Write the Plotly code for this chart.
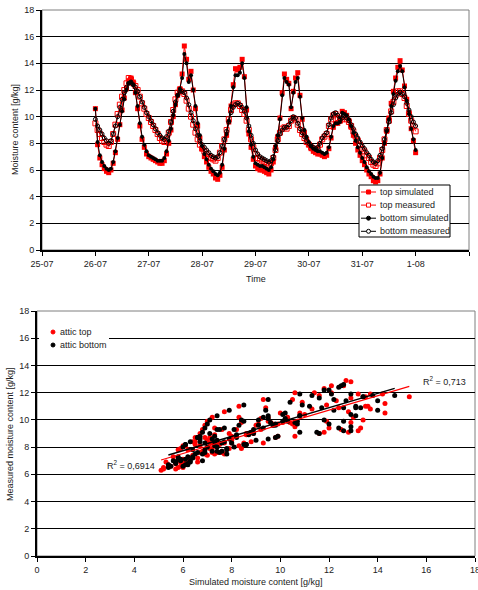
import pandas as pd
import plotly.graph_objects as go

# ---------------- data (hourly, from 26-07 00:00 to 1-08 00:00) ----------------
series_start = "2007-07-26 00:00"

top_simulated = [
    10.6, 7.9, 6.9, 6.4, 6.1, 5.9, 5.8, 6.0, 6.5, 7.3, 8.3, 9.4, 10.5, 11.4, 12.1, 12.7, 12.9, 12.6, 11.8, 10.6, 9.3, 8.3, 7.7, 7.2,
    7.0, 6.9, 6.8, 6.7, 6.6, 6.5, 6.5, 6.7, 7.2, 8.0, 9.0, 10.0, 10.9, 11.6, 12.1, 13.2, 15.3, 14.3, 12.8, 13.4, 12.0, 10.6, 9.3, 8.4,
    7.6, 7.0, 6.6, 6.2, 5.9, 5.7, 5.4, 5.3, 5.6, 6.2, 7.5, 8.6, 9.6, 10.8, 12.4, 13.6, 13.5, 13.7, 14.3, 13.0, 10.5, 8.7, 7.7, 6.8,
    6.3, 6.1, 6.0, 6.0, 5.9, 5.8, 5.7, 6.0, 6.6, 7.7, 8.5, 9.9, 11.8, 13.2, 12.8, 12.5, 10.6, 11.9, 12.9, 13.3, 11.6, 9.8, 8.8, 8.3,
    7.9, 7.6, 7.4, 7.3, 7.2, 7.2, 7.1, 7.0, 7.1, 7.6, 8.4, 9.2, 9.5, 9.5, 9.7, 10.4, 10.3, 10.1, 9.7, 9.2, 8.6, 8.0, 7.5, 7.1,
    6.7, 6.4, 6.0, 5.7, 5.5, 5.2, 5.1, 5.2, 5.7, 6.9, 8.0, 8.9, 9.9, 11.0, 11.9, 12.9, 13.7, 14.2, 13.5, 12.3, 11.3, 10.3, 9.1, 8.2,
    7.3,
]
top_measured = [
    9.5, 9.0, 8.7, 8.4, 8.1, 7.9, 7.8, 8.1, 8.7, 9.4, 10.2, 10.9, 11.5, 12.0, 12.5, 12.9, 12.8, 12.5, 12.3, 12.0, 11.5, 11.0, 10.6, 10.2,
    9.9, 9.6, 9.3, 9.0, 8.7, 8.4, 8.2, 8.1, 8.3, 8.8, 9.6, 10.5, 11.3, 11.8, 12.0, 11.9, 11.7, 11.2, 10.6, 10.0, 9.4, 8.8, 8.3, 7.9,
    7.6, 7.4, 7.2, 7.0, 6.9, 6.8, 6.7, 6.9, 7.3, 7.8, 8.3, 9.0, 9.8, 10.5, 10.9, 11.0, 11.0, 10.8, 10.5, 10.2, 9.7, 9.0, 8.3, 7.7,
    7.2, 6.9, 6.8, 6.7, 6.6, 6.5, 6.4, 6.5, 6.9, 7.5, 8.3, 8.8, 9.1, 9.2, 9.1, 9.3, 9.7, 9.9, 9.8, 9.4, 9.0, 8.7, 8.4, 8.1,
    7.9, 7.7, 7.6, 7.5, 7.6, 7.9, 8.3, 8.5, 8.7, 9.3, 9.8, 10.1, 10.2, 9.9, 9.7, 9.8, 10.0, 9.8, 9.6, 9.3, 8.9, 8.5, 8.2, 7.9,
    7.6, 7.4, 7.1, 6.9, 6.6, 6.4, 6.3, 6.5, 6.9, 7.5, 8.3, 9.0, 9.7, 10.4, 11.1, 11.6, 11.9, 11.9, 11.7, 11.4, 10.8, 10.2, 9.7, 9.3,
    8.9,
]
bottom_simulated = [
    10.6, 8.1, 7.1, 6.6, 6.3, 6.1, 6.0, 6.1, 6.6, 7.4, 8.4, 9.4, 10.4, 11.3, 12.0, 12.5, 12.6, 12.4, 11.8, 10.8, 9.5, 8.5, 7.9, 7.4,
    7.1, 7.0, 6.9, 6.8, 6.7, 6.7, 6.7, 6.9, 7.4, 8.2, 9.1, 10.1, 10.9, 11.6, 12.1, 12.9, 14.7, 14.0, 12.6, 13.1, 12.0, 10.8, 9.5, 8.6,
    7.8, 7.2, 6.8, 6.4, 6.1, 5.9, 5.7, 5.6, 5.8, 6.4, 7.6, 8.7, 9.7, 10.8, 12.2, 13.1, 13.1, 13.3, 14.0, 12.9, 10.7, 8.9, 7.9, 7.0,
    6.5, 6.4, 6.3, 6.3, 6.2, 6.1, 6.0, 6.2, 6.8, 7.8, 8.6, 9.8, 11.6, 12.9, 12.6, 12.4, 10.7, 11.8, 12.6, 12.9, 11.5, 9.9, 9.0, 8.5,
    8.1, 7.8, 7.6, 7.5, 7.4, 7.4, 7.3, 7.2, 7.3, 7.7, 8.5, 9.3, 9.5, 9.5, 9.6, 10.3, 10.2, 10.1, 9.8, 9.3, 8.8, 8.2, 7.7, 7.3,
    6.9, 6.6, 6.2, 5.9, 5.7, 5.5, 5.4, 5.4, 5.8, 6.9, 8.0, 8.9, 9.8, 10.8, 11.7, 12.7, 13.4, 13.8, 13.4, 12.2, 11.2, 10.2, 9.1, 8.3,
    7.5,
]
bottom_measured = [
    9.8, 9.3, 9.0, 8.7, 8.4, 8.2, 8.0, 8.2, 8.7, 9.3, 10.0, 10.7, 11.3, 11.8, 12.2, 12.5, 12.6, 12.4, 12.2, 11.9, 11.5, 11.1, 10.7, 10.3,
    10.0, 9.7, 9.4, 9.1, 8.8, 8.6, 8.4, 8.3, 8.5, 8.9, 9.6, 10.4, 11.1, 11.6, 11.9, 11.9, 11.8, 11.4, 10.9, 10.3, 9.7, 9.1, 8.6, 8.2,
    7.9, 7.7, 7.5, 7.3, 7.1, 7.0, 6.9, 7.0, 7.3, 7.8, 8.3, 8.9, 9.6, 10.3, 10.7, 10.9, 11.0, 10.9, 10.7, 10.4, 9.9, 9.3, 8.6, 8.0,
    7.5, 7.2, 7.0, 6.9, 6.8, 6.7, 6.6, 6.7, 7.0, 7.5, 8.2, 8.7, 9.0, 9.2, 9.2, 9.4, 9.7, 10.0, 9.9, 9.5, 9.1, 8.8, 8.5, 8.2,
    8.0, 7.8, 7.7, 7.6, 7.7, 8.0, 8.4, 8.6, 8.8, 9.4, 9.9, 10.2, 10.3, 10.1, 9.8, 9.9, 10.1, 9.9, 9.7, 9.4, 9.1, 8.7, 8.4, 8.1,
    7.8, 7.6, 7.3, 7.1, 6.8, 6.6, 6.5, 6.7, 7.1, 7.6, 8.3, 9.0, 9.6, 10.3, 10.9, 11.4, 11.7, 11.8, 11.7, 11.5, 11.0, 10.5, 10.0, 9.6,
    9.3,
]

date_ticks = ["2007-07-25", "2007-07-26", "2007-07-27", "2007-07-28", "2007-07-29",
              "2007-07-30", "2007-07-31", "2007-08-01", "2007-08-02"]
date_tick_labels = ["25-07", "26-07", "27-07", "28-07", "29-07", "30-07", "31-07", "1-08", "2-08"]
scatter_ticks = [0, 2, 4, 6, 8, 10, 12, 14, 16, 18]

# linear trend lines (slope, intercept)
trend_top = (0.530, 4.35)
trend_bottom = (0.526, 4.58)
r2_top_label = "R<sup>2</sup> = 0,713"
r2_bottom_label = "R<sup>2</sup> = 0,6914"

# ---------------- figure ----------------
W, H = 478, 590
FONT = "Liberation Sans, Arial, sans-serif"
FS = 9
TXT = "#222222"
RED = "#ff0000"
BLACK = "#000000"


def px(x):
    return x / W


def py(y):
    return 1 - y / H


times = pd.date_range(series_start, periods=len(top_simulated), freq="h")

fig = go.Figure()

# top chart series
fig.add_trace(go.Scatter(x=times, y=top_simulated, mode="lines+markers", name="top simulated",
                         line=dict(color=RED, width=1),
                         marker=dict(symbol="square", size=5, color=RED), xaxis="x", yaxis="y"))
fig.add_trace(go.Scatter(x=times, y=top_measured, mode="lines+markers", name="top measured",
                         line=dict(color=RED, width=1),
                         marker=dict(symbol="square-open", size=5, color=RED, line=dict(width=1)),
                         xaxis="x", yaxis="y"))
fig.add_trace(go.Scatter(x=times, y=bottom_simulated, mode="lines+markers", name="bottom simulated",
                         line=dict(color=BLACK, width=1),
                         marker=dict(symbol="circle", size=4, color=BLACK), xaxis="x", yaxis="y"))
fig.add_trace(go.Scatter(x=times, y=bottom_measured, mode="lines+markers", name="bottom measured",
                         line=dict(color=BLACK, width=1),
                         marker=dict(symbol="circle-open", size=4, color=BLACK, line=dict(width=1)),
                         xaxis="x", yaxis="y"))

# bottom chart: measured vs simulated
fig.add_trace(go.Scatter(x=top_simulated, y=top_measured, mode="markers", name="attic top",
                         marker=dict(symbol="circle", size=5, color=RED), xaxis="x2", yaxis="y2"))
fig.add_trace(go.Scatter(x=bottom_simulated, y=bottom_measured, mode="markers", name="attic bottom",
                         marker=dict(symbol="circle", size=5, color=BLACK), xaxis="x2", yaxis="y2"))

for sim, (slope, icpt), col, w in [(top_simulated, trend_top, RED, 1.2),
                                   (bottom_simulated, trend_bottom, BLACK, 1.4)]:
    xs = [min(sim), max(sim)]
    fig.add_trace(go.Scatter(x=xs, y=[slope * v + icpt for v in xs], mode="lines",
                             line=dict(color=col, width=w), showlegend=False,
                             xaxis="x2", yaxis="y2"))

axis_common = dict(showline=True, linecolor=BLACK, linewidth=2, ticks="outside", ticklen=4,
                   tickcolor=BLACK, tickwidth=1, zeroline=False, automargin=False,
                   tickfont=dict(family=FONT, size=FS, color=TXT))

fig.update_layout(
    width=W, height=H, margin=dict(l=0, r=0, t=0, b=0),
    paper_bgcolor="white", plot_bgcolor="white", showlegend=False,
    font=dict(family=FONT, size=FS, color=TXT),
    xaxis=dict(domain=[px(42), px(469)], anchor="y", type="date",
               range=[date_ticks[0], date_ticks[-1]], tickvals=date_ticks, ticktext=date_tick_labels,
               showgrid=False, **axis_common),
    yaxis=dict(domain=[py(250), py(10)], anchor="x", range=[0, 18], dtick=2,
               showgrid=True, gridcolor=BLACK, gridwidth=1, **axis_common),
    xaxis2=dict(domain=[px(37), px(475)], anchor="y2", range=[0, 18], tickvals=scatter_ticks,
                showgrid=False, **axis_common),
    yaxis2=dict(domain=[py(556), py(311)], anchor="x2", range=[0, 18], dtick=2,
                showgrid=True, gridcolor=BLACK, gridwidth=1, **axis_common),
)

shapes = []
# plot frames (top/right borders)
for xr, yr in [("x domain", "y domain"), ("x2 domain", "y2 domain")]:
    shapes.append(dict(type="rect", xref=xr, yref=yr, x0=0, x1=1, y0=0, y1=1,
                       line=dict(color="#7f7f7f", width=1), layer="below"))

# top legend box
shapes.append(dict(type="rect", xref="paper", yref="paper", x0=px(359), x1=px(450), y0=py(237), y1=py(185),
                   line=dict(color=BLACK, width=1), fillcolor="white", layer="above"))
legend_items = [("top simulated", RED, "sq", True), ("top measured", RED, "sq", False),
                ("bottom simulated", BLACK, "ci", True), ("bottom measured", BLACK, "ci", False)]
annotations = []
for i, (label, col, shp, filled) in enumerate(legend_items):
    yc = 192 + i * 13.1
    shapes.append(dict(type="line", xref="paper", yref="paper", x0=px(361), x1=px(376), y0=py(yc), y1=py(yc),
                       line=dict(color=col, width=1), layer="above"))
    shapes.append(dict(type="rect" if shp == "sq" else "circle", xref="paper", yref="paper",
                       x0=px(366.5), x1=px(370.5), y0=py(yc + 2), y1=py(yc - 2),
                       line=dict(color=col, width=1), fillcolor=col if filled else "white", layer="above"))
    annotations.append(dict(text=label, xref="paper", yref="paper", x=px(378), y=py(yc),
                            xanchor="left", yanchor="middle", showarrow=False,
                            font=dict(family=FONT, size=FS, color=TXT)))

# bottom legend
shapes.append(dict(type="rect", xref="paper", yref="paper", x0=px(39), x1=px(109), y0=py(353), y1=py(324),
                   line=dict(width=0), fillcolor="white", layer="above"))
for i, (label, col) in enumerate([("attic top", RED), ("attic bottom", BLACK)]):
    yc = 332 + i * 13
    shapes.append(dict(type="circle", xref="paper", yref="paper", x0=px(51), x1=px(55),
                       y0=py(yc + 2), y1=py(yc - 2), line=dict(color=col, width=1), fillcolor=col,
                       layer="above"))
    annotations.append(dict(text=label, xref="paper", yref="paper", x=px(58), y=py(yc),
                            xanchor="left", yanchor="middle", showarrow=False,
                            font=dict(family=FONT, size=FS, color=TXT)))

# last scatter tick label sits on the right edge of the picture (partly cut, as in the original)
annotations.append(dict(text=str(scatter_ticks[-1]), xref="x2", yref="paper", x=scatter_ticks[-1],
                        y=py(570), showarrow=False, xanchor="center", yanchor="middle",
                        font=dict(family=FONT, size=FS, color=TXT)))

# axis titles and R² labels
annotations += [
    dict(text="Time", xref="paper", yref="paper", x=px(256), y=py(279), showarrow=False,
         xanchor="center", yanchor="middle", font=dict(family=FONT, size=FS, color=TXT)),
    dict(text="Moisture content [g/kg]", xref="paper", yref="paper", x=px(15), y=py(130),
         textangle=-90, showarrow=False, xanchor="center", yanchor="middle",
         font=dict(family=FONT, size=FS, color=TXT)),
    dict(text="Simulated moisture content [g/kg]", xref="paper", yref="paper", x=px(256), y=py(582),
         showarrow=False, xanchor="center", yanchor="middle", font=dict(family=FONT, size=FS, color=TXT)),
    dict(text="Measured moisture content [g/kg]", xref="paper", yref="paper", x=px(10), y=py(434),
         textangle=-90, showarrow=False, xanchor="center", yanchor="middle",
         font=dict(family=FONT, size=FS, color=TXT)),
    dict(text=r2_bottom_label, xref="paper", yref="paper", x=px(105), y=py(465), showarrow=False,
         xanchor="left", yanchor="middle", font=dict(family=FONT, size=FS, color=TXT)),
    dict(text=r2_top_label, xref="paper", yref="paper", x=px(421), y=py(381), showarrow=False,
         xanchor="left", yanchor="middle", font=dict(family=FONT, size=FS, color=TXT)),
]

fig.update_layout(shapes=shapes, annotations=annotations)
fig.write_html("out.html", config={"displayModeBar": False},
               post_script="document.body.style.margin='0';document.body.style.overflow='hidden';")
